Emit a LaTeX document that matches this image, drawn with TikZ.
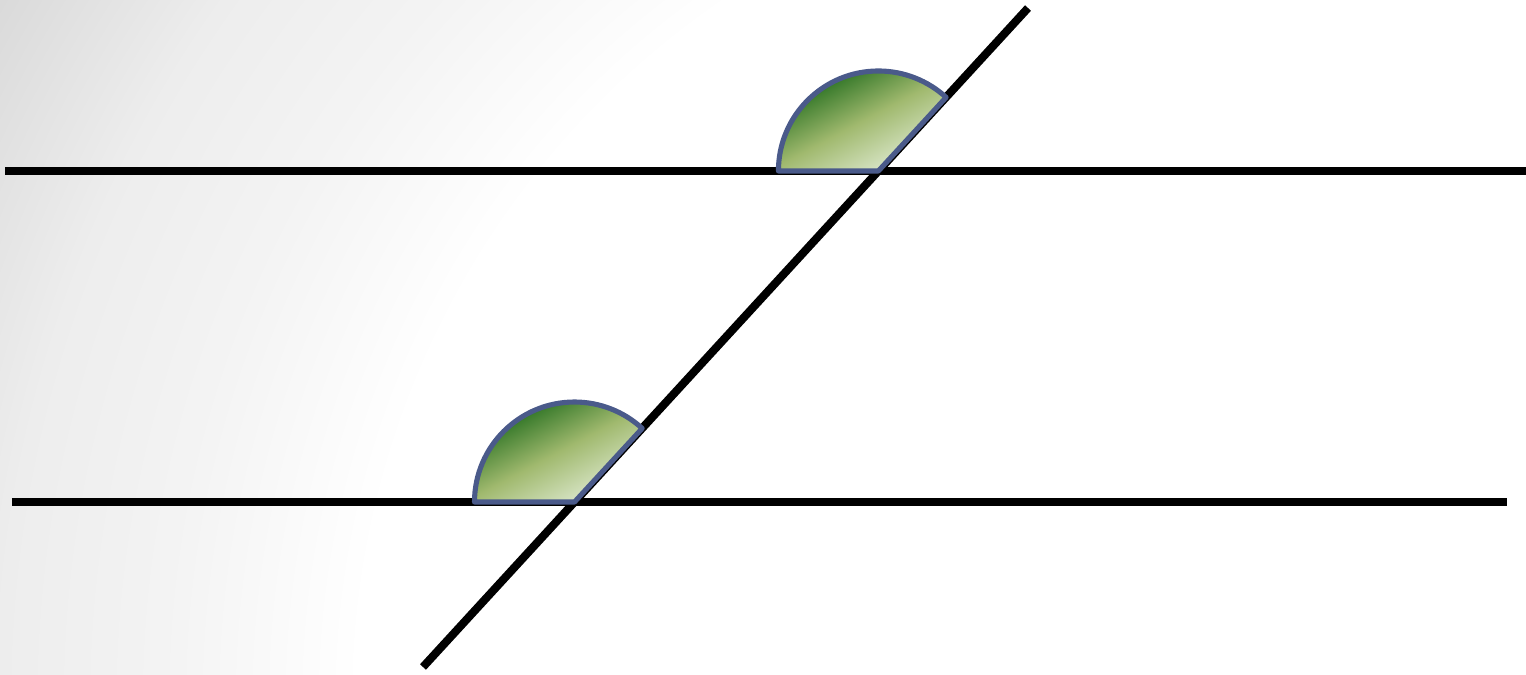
\documentclass[tikz,border=0pt]{standalone}
\usetikzlibrary{calc}

\definecolor{rimblue}{HTML}{4A5A8A}
\definecolor{leafdark}{HTML}{1A6818}
\definecolor{leafmid}{HTML}{A0B96E}
\definecolor{leaflight}{HTML}{E2EDD6}
\pgfdeclareradialshading{slidebg}{\pgfpoint{0bp}{0bp}}%
  {color(0bp)=(white); color(15bp)=(white); color(18.4bp)=(black!4.5);
   color(21.4bp)=(black!7); color(25bp)=(black!15); color(50bp)=(black!15)}

\begin{document}
\begin{tikzpicture}[
    rule/.style={black, line width=2.3pt},
    wedge/.style={draw=rimblue, line width=1.45pt, line join=round,
                  top color=leafdark, bottom color=leaflight,
                  middle color=leafmid, shading angle=28},
  ]
  \useasboundingbox (0,0) rectangle (15.26,6.74);
  % --- background ---
  \begin{scope}
    \clip (0,0) rectangle (15.26,6.74);
    \shade[shading=slidebg] (12,-0.26) circle (14);
  \end{scope}

  % --- parallel lines and transversal ---
  \coordinate (topL) at (0.05,5.03);
  \coordinate (topR) at (15.26,5.03);
  \coordinate (botL) at (0.12,1.72);
  \coordinate (botR) at (15.07,1.72);
  \coordinate (crossB) at (4.23,0.07);
  \coordinate (crossT) at (10.28,6.66);
  \coordinate (meetT) at (intersection of topL--topR and crossB--crossT);
  \coordinate (meetB) at (intersection of botL--botR and crossB--crossT);

  \draw[rule] (topL) -- (topR);
  \draw[rule] (botL) -- (botR);
  \draw[rule] (crossB) -- (crossT);

  % --- corresponding angles ---
  \draw[wedge] (meetT) -- ++(180:1) arc[start angle=180, end angle=47.4, radius=1] -- cycle;
  \draw[wedge] (meetB) -- ++(180:1) arc[start angle=180, end angle=47.4, radius=1] -- cycle;
\end{tikzpicture}
\end{document}
